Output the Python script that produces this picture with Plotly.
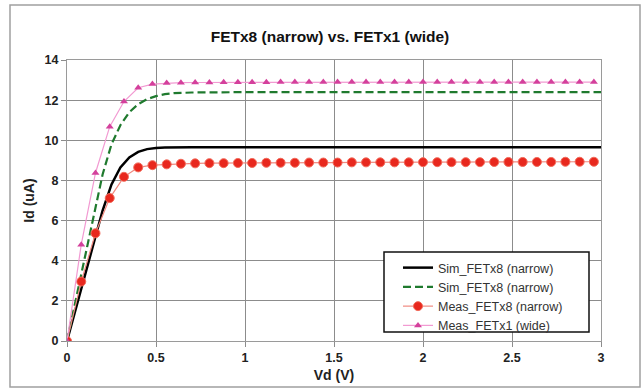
import plotly.graph_objects as go

# Simulated curves
vd_sim = [0, 0.05, 0.1, 0.15, 0.2, 0.25, 0.3, 0.35, 0.4, 0.45, 0.5, 0.55, 0.6,
          0.7, 0.8, 1.0, 1.5, 2.0, 2.5, 3.0]
sim_narrow_black = [0, 1.65, 3.3, 4.95, 6.5, 7.8, 8.65, 9.15, 9.42, 9.56, 9.62,
                    9.64, 9.65, 9.65, 9.65, 9.65, 9.65, 9.65, 9.65, 9.65]
sim_narrow_green = [0, 2.1, 4.2, 6.3, 8.3, 9.8, 10.75, 11.4, 11.8, 12.05, 12.2,
                    12.3, 12.35, 12.38, 12.39, 12.4, 12.4, 12.4, 12.4, 12.4]

# Measured points
vd_meas = [0.00, 0.08, 0.16, 0.24, 0.32, 0.40, 0.48, 0.56, 0.64, 0.72, 0.80,
           0.88, 0.96, 1.04, 1.12, 1.20, 1.28, 1.36, 1.44, 1.52, 1.60, 1.68,
           1.76, 1.84, 1.92, 2.00, 2.08, 2.16, 2.24, 2.32, 2.40, 2.48, 2.56,
           2.64, 2.72, 2.80, 2.88, 2.96]
meas_fetx8 = [0, 2.96, 5.37, 7.12, 8.18, 8.65, 8.76, 8.8, 8.83, 8.85, 8.86,
              8.86, 8.87, 8.87, 8.88, 8.88, 8.88, 8.89, 8.89, 8.89, 8.9, 8.9,
              8.9, 8.9, 8.9, 8.91, 8.91, 8.91, 8.91, 8.91, 8.92, 8.92, 8.92,
              8.92, 8.92, 8.93, 8.93, 8.93]
meas_fetx1 = [0, 4.8, 8.37, 10.68, 11.93, 12.62, 12.8, 12.85, 12.87, 12.88,
              12.88, 12.89, 12.89, 12.89, 12.89, 12.9, 12.9, 12.9, 12.9, 12.9,
              12.9, 12.9, 12.9, 12.9, 12.9, 12.9, 12.9, 12.9, 12.9, 12.9, 12.9,
              12.9, 12.9, 12.9, 12.9, 12.9, 12.9, 12.9]

x_ticks = [0, 0.5, 1, 1.5, 2, 2.5, 3]
x_tick_text = ["0", "0.5", "1", "1.5", "2", "2.5", "3"]
y_ticks = [0, 2, 4, 6, 8, 10, 12, 14]

FONT = "Arial, 'Liberation Sans', sans-serif"

fig = go.Figure()
fig.add_trace(go.Scatter(x=vd_sim, y=sim_narrow_black, mode="lines",
                         name="Sim_FETx8 (narrow)",
                         line=dict(color="#000000", width=2.5)))
fig.add_trace(go.Scatter(x=vd_sim, y=sim_narrow_green, mode="lines",
                         name="Sim_FETx8 (narrow)",
                         line=dict(color="#1f7a2e", width=2.2, dash="8px,4px")))
fig.add_trace(go.Scatter(x=vd_meas, y=meas_fetx8, mode="lines+markers",
                         name="Meas_FETx8 (narrow)",
                         line=dict(color="#f08a80", width=1.2),
                         marker=dict(symbol="circle", size=9, color="#e8281e",
                                     line=dict(color="#f26a5a", width=1))))
fig.add_trace(go.Scatter(x=vd_meas, y=meas_fetx1, mode="lines+markers",
                         name="Meas_FETx1 (wide)",
                         line=dict(color="#f29ad2", width=1.2),
                         marker=dict(symbol="triangle-up", size=7, color="#d4409c")))

x0, x1 = 67, 601
y0, y1 = 60, 341
W, H = 643, 390

def px_to_paper_x(px):
    return (px - x0) / (x1 - x0)

def px_to_paper_y(py):
    return (y1 - py) / (y1 - y0)

fig.update_layout(
    width=W, height=H,
    margin=dict(l=x0, r=W - x1, t=y0, b=H - y1, autoexpand=False),
    paper_bgcolor="white", plot_bgcolor="white",
    font=dict(family=FONT, color="#222222"),
    title=dict(text="<b>FETx8 (narrow) vs. FETx1 (wide)</b>",
               x=330 / W, xanchor="center", y=1 - 37 / H, yanchor="middle",
               font=dict(size=15.5, color="#111111")),
    showlegend=True,
    legend=dict(x=px_to_paper_x(398), y=px_to_paper_y(253),
                xanchor="left", yanchor="top",
                bgcolor="rgba(0,0,0,0)", borderwidth=0,
                font=dict(size=12.5, color="#333333"),
                itemwidth=30, tracegroupgap=0),
    xaxis=dict(range=[0, 3], tickvals=x_ticks, ticktext=x_tick_text,
               automargin=False,
               showgrid=True, gridcolor="#8c8c8c", gridwidth=1.2,
               zeroline=False, showline=True, linecolor="#9a9a9a", linewidth=1.2,
               mirror=True, ticks="outside", ticklen=5, tickcolor="#8c8c8c",
               tickfont=dict(size=12.5, family=FONT, color="#222222", weight="bold"),
               title=dict(text="<b>Vd (V)</b>", font=dict(size=14), standoff=6)),
    yaxis=dict(range=[0, 14], tickvals=y_ticks,
               automargin=False,
               showgrid=True, gridcolor="#8c8c8c", gridwidth=1.2,
               zeroline=False, showline=True, linecolor="#9a9a9a", linewidth=1.2,
               mirror=True, ticks="outside", ticklen=5, tickcolor="#8c8c8c",
               tickfont=dict(size=12.5, family=FONT, color="#222222", weight="bold"),
               title=dict(text="<b>Id (uA)</b>", font=dict(size=14), standoff=6)),
    shapes=[
        dict(type="rect", xref="paper", yref="paper",
             x0=px_to_paper_x(10), x1=px_to_paper_x(640),
             y0=px_to_paper_y(387), y1=px_to_paper_y(5),
             line=dict(color="#a0a0a0", width=1.5), layer="below"),
        dict(type="rect", xref="paper", yref="paper",
             x0=px_to_paper_x(384), x1=px_to_paper_x(589),
             y0=px_to_paper_y(332), y1=px_to_paper_y(252),
             line=dict(color="#111111", width=1.5), fillcolor="white",
             layer="above"),
    ],
)

fig.write_html("out.html")
